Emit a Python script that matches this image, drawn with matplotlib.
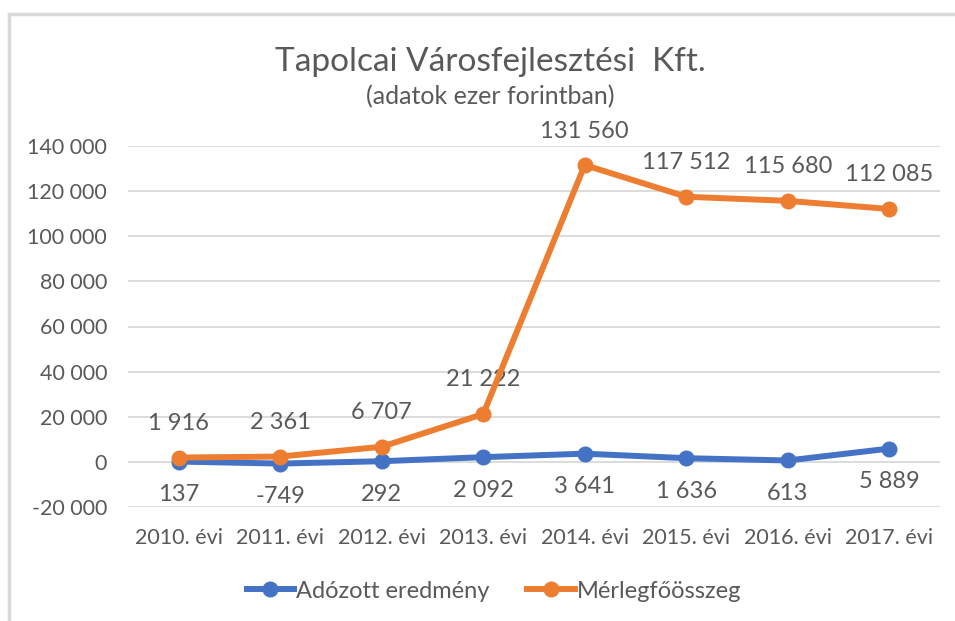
import matplotlib.pyplot as plt
from matplotlib.lines import Line2D
from matplotlib.ticker import FuncFormatter

plt.rcParams['font.family'] = ['Lato', 'DejaVu Sans']

years = ['2010. évi', '2011. évi', '2012. évi', '2013. évi',
         '2014. évi', '2015. évi', '2016. évi', '2017. évi']
adozott = [137, -749, 292, 2092, 3641, 1636, 613, 5889]
merleg = [1916, 2361, 6707, 21222, 131560, 117512, 115680, 112085]
y_ticks = [-20000, 0, 20000, 40000, 60000, 80000, 100000, 120000, 140000]

BLUE = '#4472C4'
ORANGE = '#ED7D31'
TEXT = '#595959'
GRID = '#D9D9D9'


def fmt(v):
    s = '{:,}'.format(int(v)).replace(',', ' ')
    return s


fig = plt.figure(figsize=(9.55, 6.21), dpi=100)
ax = fig.add_axes([128 / 955, 1 - 507 / 621, 812 / 955, 361 / 621])

x = list(range(len(years)))
ax.plot(x, adozott, color=BLUE, lw=4.3, marker='o', ms=10.5, zorder=3,
        solid_capstyle='round')
ax.plot(x, merleg, color=ORANGE, lw=4.3, marker='o', ms=10.5, zorder=4,
        solid_capstyle='round')

for xi, v in zip(x, merleg):
    ax.annotate(fmt(v), (xi, v), xytext=(0, 24.5), textcoords='offset points',
                ha='center', va='center', fontsize=17, color=TEXT)
for xi, v in zip(x, adozott):
    ax.annotate(fmt(v), (xi, v), xytext=(0, -24), textcoords='offset points',
                ha='center', va='center', fontsize=17, color=TEXT)

ax.set_xlim(-0.5, len(years) - 0.5)
ax.set_ylim(-20000, 140000)
ax.set_yticks(y_ticks)
ax.yaxis.set_major_formatter(FuncFormatter(lambda v, p: fmt(v)))
ax.set_xticks(x)
ax.set_xticklabels(years)
ax.tick_params(axis='both', length=0, colors=TEXT, labelsize=15.5)
ax.tick_params(axis='y', pad=15)
ax.tick_params(axis='x', pad=15)
ax.grid(axis='y', color=GRID, lw=1.3)
ax.set_axisbelow(True)
for s in ax.spines.values():
    s.set_visible(False)

fig.text(490 / 955, 1 - 62 / 621, 'Tapolcai Városfejlesztési  Kft.', ha='center',
         va='center', fontsize=24, color=TEXT)
fig.text(490 / 955, 1 - 97 / 621, '(adatok ezer forintban)', ha='center',
         va='center', fontsize=18, color=TEXT)

handles = [Line2D([], [], color=BLUE, lw=4.3, marker='o', ms=10.5),
           Line2D([], [], color=ORANGE, lw=4.3, marker='o', ms=10.5)]
fig.legend(handles, ['Adózott eredmény', 'Mérlegfőösszeg'], loc='center',
           bbox_to_anchor=(494 / 955, 1 - 591 / 621), ncol=2, frameon=False,
           fontsize=17, labelcolor=TEXT, handlelength=2.0, handletextpad=0.1,
           columnspacing=1.6)

# chart frame (extends past the right and bottom edges)
fig.add_artist(Line2D([9 / 955, 9 / 955], [0, 1 - 14 / 621], color=GRID, lw=2.5,
                      transform=fig.transFigure))
fig.add_artist(Line2D([9 / 955, 1], [1 - 14 / 621, 1 - 14 / 621], color=GRID, lw=2.5,
                      transform=fig.transFigure))

fig.savefig('out.png', dpi=100, facecolor='white')
